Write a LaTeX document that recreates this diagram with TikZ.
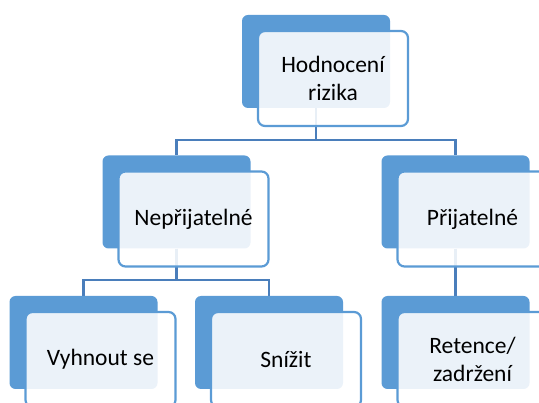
\documentclass[tikz,border=0pt]{standalone}
\usepackage{fontspec}
\setmainfont{Carlito}
\usetikzlibrary{backgrounds}
\definecolor{accent}{HTML}{5B9BD5}
\definecolor{linkblue}{HTML}{4A7EBB}
\begin{document}
\begin{tikzpicture}[x=1pt,y=-1pt,
  backbox/.style={fill=accent,draw=none,rounded corners=6pt,
    minimum width=148pt,minimum height=93pt,inner sep=0pt},
  frontbox/.style={fill=white,fill opacity=0.88,text opacity=1,draw=accent,
    line width=2.2pt,rounded corners=7pt,minimum width=150pt,minimum height=95pt,
    inner sep=0pt,align=center,
    font=\fontsize{23.5}{27.5}\selectfont},
  conn/.style={draw=linkblue,line width=2.3pt}]
\useasboundingbox (0,0) rectangle (539,403);
\clip (0,0) rectangle (539,403);

% back tiles
\node[backbox] (bTop) at (316,61.5) {};
\node[backbox] (bNe) at (176.5,202) {};
\node[backbox] (bPr) at (455.5,202) {};
\node[backbox] (bVy) at (83.5,342.5) {};
\node[backbox] (bSn) at (269,342.5) {};
\node[backbox] (bRe) at (455.5,342.5) {};

% front text boxes, shifted down-right of their tiles
\node[frontbox] (fTop) at ([shift={(17,17)}]bTop.center) {Hodnocení\\rizika};
\node[frontbox] (fNe) at ([shift={(17,17)}]bNe.center) {Nepřijatelné};
\node[frontbox] (fPr) at ([shift={(17,17)}]bPr.center) {Přijatelné};
\node[frontbox] (fVy) at ([shift={(17,17)}]bVy.center) {Vyhnout se};
\node[frontbox] (fSn) at ([shift={(17,17)}]bSn.center) {Snížit};
\node[frontbox] (fRe) at ([shift={(17,17)}]bRe.center) {Retence/\\zadržení};

% elbow connectors, kept behind the tiles
\begin{scope}[on background layer]
\coordinate (jTop) at (bTop.south |- 0,140);
\coordinate (jNe) at (bNe.south |- 0,280);
\draw[conn] (bTop.south) -- (jTop) -| (bNe.north);
\draw[conn] (jTop) -| (bPr.north);
\draw[conn] (bNe.south) -- (jNe) -| (bVy.north);
\draw[conn] (jNe) -| (bSn.north);
\draw[conn] (bPr.south) -- (bRe.north);
\end{scope}
\end{tikzpicture}
\end{document}
